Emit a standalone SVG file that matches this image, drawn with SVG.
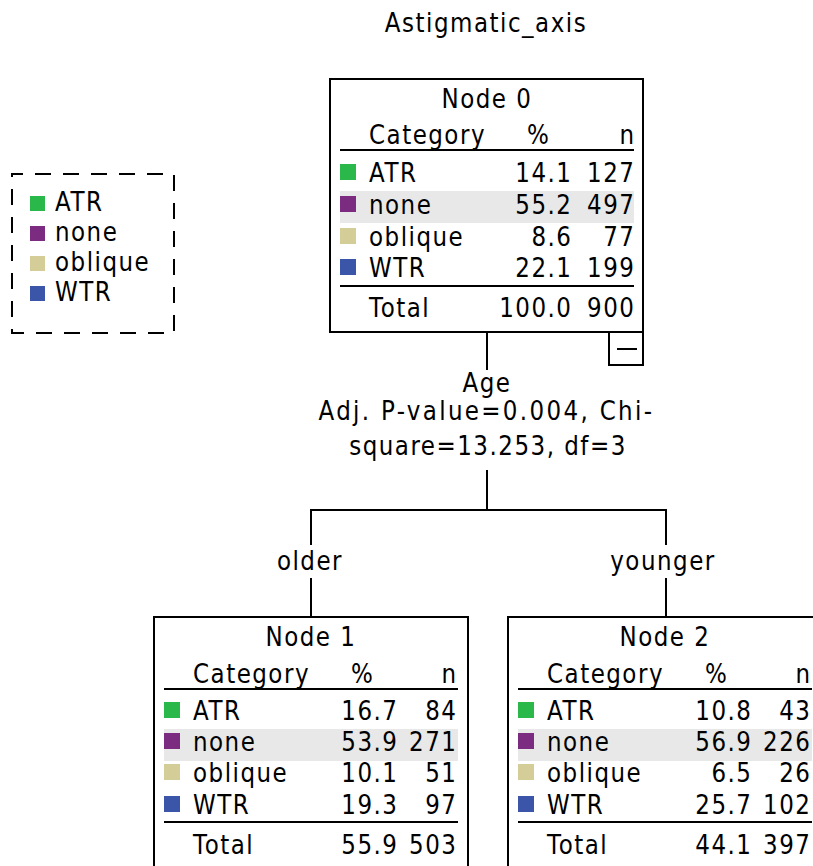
<svg xmlns="http://www.w3.org/2000/svg" width="813" height="866" viewBox="0 0 813 866">
<style>
text{font-family:"DejaVu Sans","Liberation Sans",sans-serif;font-size:23px;letter-spacing:1.5px;fill:#000;transform-box:fill-box;transform-origin:50% 100%;transform:scaleY(1.17)}
.m{text-anchor:middle}
.e{text-anchor:end}
.box{fill:#fff;stroke:#000;stroke-width:2}
.rule{stroke:#000;stroke-width:2}
.hl{fill:#e8e8e8}
.atr{fill:#2bb84b}
.none{fill:#7b2b80}
.obl{fill:#d5cd98}
.wtr{fill:#3b56a9}
.conn line{stroke:#000;stroke-width:2}
</style>
<rect width="813" height="866" fill="#fff"/>
<text class="m" x="486" y="33">Astigmatic_axis</text>

<g id="legend">
<rect x="12" y="174" width="162" height="159" fill="none" stroke="#000" stroke-width="2" stroke-dasharray="16,12" stroke-dashoffset="5"/>
<rect class="atr" x="30" y="196" width="15" height="15"/>
<text x="55" y="212">ATR</text>
<rect class="none" x="30" y="226" width="15" height="15"/>
<text x="55" y="242">none</text>
<rect class="obl" x="30" y="256" width="15" height="15"/>
<text x="55" y="272">oblique</text>
<rect class="wtr" x="30" y="286" width="15" height="15"/>
<text x="55" y="302">WTR</text>
</g>

<g id="connectors" class="conn">
<line x1="487" y1="332" x2="487" y2="370"/>
<line x1="487" y1="470" x2="487" y2="511"/>
<line x1="310" y1="510" x2="667" y2="510"/>
<line x1="311" y1="510" x2="311" y2="545"/>
<line x1="311" y1="578" x2="311" y2="617"/>
<line x1="666" y1="510" x2="666" y2="545"/>
<line x1="666" y1="578" x2="666" y2="617"/>
</g>

<g id="split-label">
<text class="m" x="487" y="393">Age</text>
<text class="m" x="486" y="421" textLength="335" lengthAdjust="spacing">Adj. P-value=0.004, Chi-</text>
<text class="m" x="488" y="456">square=13.253, df=3</text>
<text class="m" x="310" y="571">older</text>
<text class="m" x="663" y="571">younger</text>
</g>

<g id="node0" transform="translate(330,79)">
<rect class="box" x="0" y="0" width="313" height="253"/>
<text class="m" x="157" y="30">Node 0</text>
<text x="39" y="66">Category</text>
<text x="197" y="66">%</text>
<text class="e" x="305.5" y="66">n</text>
<line class="rule" x1="10" y1="71" x2="304" y2="71"/>
<rect class="hl" x="10" y="112" width="294" height="32"/>
<rect class="atr" x="10" y="85" width="16" height="16"/>
<text x="39" y="104">ATR</text><text class="e" x="242.5" y="104">14.1</text><text class="e" x="305.5" y="104">127</text>
<rect class="none" x="10" y="117" width="16" height="16"/>
<text x="39" y="136">none</text><text class="e" x="242.5" y="136">55.2</text><text class="e" x="305.5" y="136">497</text>
<rect class="obl" x="10" y="149" width="16" height="16"/>
<text x="39" y="168">oblique</text><text class="e" x="242.5" y="168">8.6</text><text class="e" x="305.5" y="168">77</text>
<rect class="wtr" x="10" y="180" width="16" height="16"/>
<text x="39" y="199">WTR</text><text class="e" x="242.5" y="199">22.1</text><text class="e" x="305.5" y="199">199</text>
<line class="rule" x1="10" y1="207" x2="304" y2="207"/>
<text x="39" y="239">Total</text><text class="e" x="242.5" y="239">100.0</text><text class="e" x="305.5" y="239">900</text>
<rect class="box" x="279" y="253" width="34" height="33"/>
<line class="rule" x1="287" y1="270" x2="307" y2="270"/>
</g>

<g id="node1" transform="translate(154,617)">
<rect class="box" x="0" y="0" width="314" height="253"/>
<text class="m" x="157" y="30">Node 1</text>
<text x="39" y="67">Category</text>
<text x="197" y="67">%</text>
<text class="e" x="303.5" y="67">n</text>
<line class="rule" x1="10" y1="72" x2="304" y2="72"/>
<rect class="hl" x="10" y="112" width="294" height="32"/>
<rect class="atr" x="10" y="85" width="16" height="16"/>
<text x="39" y="104">ATR</text><text class="e" x="244.5" y="104">16.7</text><text class="e" x="303.5" y="104">84</text>
<rect class="none" x="10" y="116" width="16" height="16"/>
<text x="39" y="135">none</text><text class="e" x="244.5" y="135">53.9</text><text class="e" x="303.5" y="135">271</text>
<rect class="obl" x="10" y="147" width="16" height="16"/>
<text x="39" y="166">oblique</text><text class="e" x="244.5" y="166">10.1</text><text class="e" x="303.5" y="166">51</text>
<rect class="wtr" x="10" y="179" width="16" height="16"/>
<text x="39" y="198">WTR</text><text class="e" x="244.5" y="198">19.3</text><text class="e" x="303.5" y="198">97</text>
<line class="rule" x1="10" y1="205" x2="304" y2="205"/>
<text x="39" y="238">Total</text><text class="e" x="244.5" y="238">55.9</text><text class="e" x="303.5" y="238">503</text>
</g>

<g id="node2" transform="translate(508,617)">
<rect class="box" x="0" y="0" width="314" height="253"/>
<text class="m" x="157" y="30">Node 2</text>
<text x="39" y="67">Category</text>
<text x="197" y="67">%</text>
<text class="e" x="303.5" y="67">n</text>
<line class="rule" x1="10" y1="72" x2="304" y2="72"/>
<rect class="hl" x="10" y="112" width="294" height="32"/>
<rect class="atr" x="10" y="85" width="16" height="16"/>
<text x="39" y="104">ATR</text><text class="e" x="244.5" y="104">10.8</text><text class="e" x="303.5" y="104">43</text>
<rect class="none" x="10" y="116" width="16" height="16"/>
<text x="39" y="135">none</text><text class="e" x="244.5" y="135">56.9</text><text class="e" x="303.5" y="135">226</text>
<rect class="obl" x="10" y="147" width="16" height="16"/>
<text x="39" y="166">oblique</text><text class="e" x="244.5" y="166">6.5</text><text class="e" x="303.5" y="166">26</text>
<rect class="wtr" x="10" y="179" width="16" height="16"/>
<text x="39" y="198">WTR</text><text class="e" x="244.5" y="198">25.7</text><text class="e" x="303.5" y="198">102</text>
<line class="rule" x1="10" y1="205" x2="304" y2="205"/>
<text x="39" y="238">Total</text><text class="e" x="244.5" y="238">44.1</text><text class="e" x="303.5" y="238">397</text>
</g>
</svg>
